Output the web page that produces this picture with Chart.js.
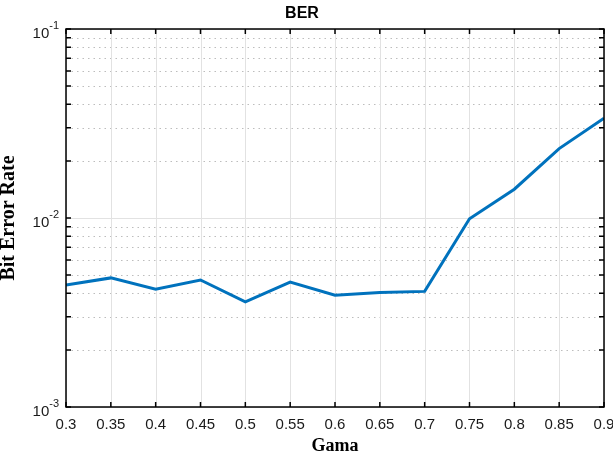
<!DOCTYPE html>
<html>
<head>
<meta charset="utf-8">
<script src="https://cdn.jsdelivr.net/npm/chart.js@4/dist/chart.umd.min.js"></script>
<style>
  html, body { margin: 0; padding: 0; background: #fff; }
  #wrap { width: 613px; height: 457px; }
</style>
</head>
<body>
<div id="wrap"><canvas id="ber-chart" width="613" height="457"></canvas></div>
<script>
// --- Data ---
const gama = [0.3, 0.35, 0.4, 0.45, 0.5, 0.55, 0.6, 0.65, 0.7, 0.75, 0.8, 0.85, 0.9];
const berValues = [0.00442, 0.00482, 0.0042, 0.0047, 0.0036, 0.00458, 0.0039, 0.00404, 0.00409, 0.0099, 0.0142, 0.0233, 0.0337];
const xTicks = [0.3, 0.35, 0.4, 0.45, 0.5, 0.55, 0.6, 0.65, 0.7, 0.75, 0.8, 0.85, 0.9];
const yDecades = [-3, -2, -1];

const TICK_FONT = '15px "Liberation Sans", Arial, sans-serif';
const SUP_FONT = '11px "Liberation Sans", Arial, sans-serif';

// every 1..9 x 10^n value inside the y range (minor grid + ticks)
function yGridValues() {
    const vals = [];
    for (let i = 0; i < yDecades.length - 1; i++) {
        for (let m = 1; m <= 9; m++) vals.push(m * Math.pow(10, yDecades[i]));
    }
    vals.push(Math.pow(10, yDecades[yDecades.length - 1]));
    return vals;
}

// --- MATLAB-like grid, drawn under the line ---
const gridPlugin = {
    id: 'matlabGrid',
    beforeDatasetsDraw(chart) {
        const { ctx, chartArea: a, scales: { x, y } } = chart;
        ctx.save();
        ctx.lineWidth = 1;
        // y minor dotted
        ctx.strokeStyle = '#bdbdbd';
        ctx.setLineDash([1.5, 4]);
        yGridValues().forEach(v => {
            const isMajor = Math.abs(Math.log10(v) - Math.round(Math.log10(v))) < 1e-9;
            if (isMajor) return;
            const py = Math.round(y.getPixelForValue(v)) + 0.5;
            ctx.beginPath(); ctx.moveTo(a.left, py); ctx.lineTo(a.right, py); ctx.stroke();
        });
        ctx.setLineDash([]);
        // major solid lines
        ctx.strokeStyle = '#e2e2e2';
        xTicks.forEach(v => {
            const px = Math.round(x.getPixelForValue(v)) + 0.5;
            ctx.beginPath(); ctx.moveTo(px, a.top); ctx.lineTo(px, a.bottom); ctx.stroke();
        });
        yDecades.forEach(d => {
            const py = Math.round(y.getPixelForValue(Math.pow(10, d))) + 0.5;
            ctx.beginPath(); ctx.moveTo(a.left, py); ctx.lineTo(a.right, py); ctx.stroke();
        });
        ctx.restore();
    }
};

// --- box, inward ticks and tick labels ---
const framePlugin = {
    id: 'matlabFrame',
    afterDatasetsDraw(chart) {
        const { ctx, chartArea: a, scales: { x, y } } = chart;
        ctx.save();
        ctx.strokeStyle = '#000';
        ctx.lineWidth = 1.5;
        ctx.strokeRect(a.left, a.top, a.right - a.left, a.bottom - a.top);

        const tl = 5;
        xTicks.forEach(v => {
            const px = x.getPixelForValue(v);
            ctx.beginPath();
            ctx.moveTo(px, a.bottom); ctx.lineTo(px, a.bottom - tl);
            ctx.moveTo(px, a.top); ctx.lineTo(px, a.top + tl);
            ctx.stroke();
        });
        yGridValues().forEach(v => {
            const py = y.getPixelForValue(v);
            ctx.beginPath();
            ctx.moveTo(a.left, py); ctx.lineTo(a.left + tl, py);
            ctx.moveTo(a.right, py); ctx.lineTo(a.right - tl, py);
            ctx.stroke();
        });

        // tick labels
        ctx.fillStyle = '#1a1a1a';
        ctx.font = TICK_FONT;
        ctx.textAlign = 'center';
        ctx.textBaseline = 'middle';
        xTicks.forEach(v => {
            ctx.fillText(String(v), x.getPixelForValue(v), a.bottom + 18);
        });

        yDecades.forEach(d => {
            const py = y.getPixelForValue(Math.pow(10, d));
            const sup = String(d);
            ctx.font = SUP_FONT;
            const supW = ctx.measureText(sup).width;
            ctx.textAlign = 'right';
            ctx.fillText(sup, a.left - 7, py - 3);
            ctx.font = TICK_FONT;
            ctx.fillText('10', a.left - 7 - supW, py + 5);
        });
        ctx.restore();
    }
};

new Chart(document.getElementById('ber-chart'), {
    type: 'line',
    data: {
        labels: gama,
        datasets: [{
            label: 'BER',
            data: gama.map((g, i) => ({ x: g, y: berValues[i] })),
            borderColor: '#0072BD',
            borderWidth: 3,
            pointRadius: 0,
            tension: 0,
            fill: false
        }]
    },
    options: {
        responsive: false,
        animation: false,
        devicePixelRatio: 1,
        layout: { padding: { left: 0, right: 9, top: 0, bottom: 0 } },
        plugins: {
            legend: { display: false },
            tooltip: { enabled: false },
            title: {
                display: true,
                text: 'BER',
                color: '#000',
                font: { family: '"Liberation Sans", Arial, sans-serif', size: 16, weight: 'bold' },
                padding: { top: 4, bottom: 5.8 }
            }
        },
        scales: {
            x: {
                type: 'linear',
                min: 0.3,
                max: 0.9,
                grid: { display: false },
                border: { display: false },
                ticks: { display: false },
                title: {
                    display: true,
                    text: 'Gama',
                    color: '#000',
                    font: { family: '"Liberation Serif", "Times New Roman", serif', size: 18, weight: 'bold' },
                    padding: { top: 0, bottom: 0 }
                },
                afterFit(scale) { scale.height = 50; }
            },
            y: {
                type: 'logarithmic',
                min: 0.001,
                max: 0.1,
                grid: { display: false },
                border: { display: false },
                ticks: { display: false },
                title: {
                    display: true,
                    text: 'Bit Error Rate',
                    color: '#000',
                    font: { family: '"Liberation Serif", "Times New Roman", serif', size: 20, weight: 'bold' },
                    padding: { top: -3, bottom: 0 }
                },
                afterFit(scale) { scale.width = 66; }
            }
        }
    },
    plugins: [gridPlugin, framePlugin]
});
</script>
</body>
</html>
